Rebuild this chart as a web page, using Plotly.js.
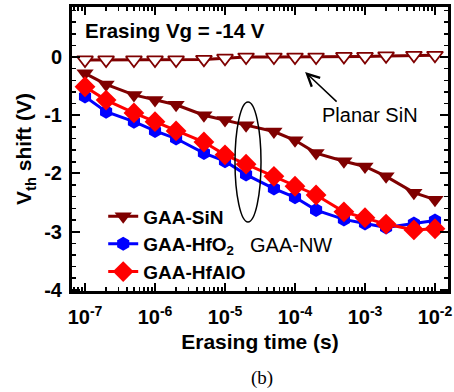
<!DOCTYPE html>
<html>
<head>
<meta charset="utf-8">
<script src="https://cdn.plot.ly/plotly-3.0.1.min.js"></script>
<style>html,body{margin:0;padding:0;background:#fff;}#chart{width:454px;height:392px;}</style>
</head>
<body>
<div id="chart"></div>
<script>
// Erasing time (s)
const eraseTime = [1e-7, 2e-7, 5e-7, 1e-6, 2e-6, 5e-6, 1e-5, 2e-5, 5e-5, 1e-4, 2e-4, 5e-4, 1e-3, 2e-3, 5e-3, 1e-2];
// Vth shift (V)
const planarSiN = [-0.05, -0.05, -0.05, -0.05, -0.05, -0.04, -0.02, 0.0, 0.0, 0.0, 0.0, 0.01, 0.01, 0.02, 0.03, 0.03];
const gaaSiN    = [-0.28, -0.47, -0.65, -0.74, -0.82, -1.0, -1.08, -1.17, -1.28, -1.43, -1.65, -1.79, -1.88, -2.05, -2.33, -2.45];
const gaaHfO2   = [-0.68, -0.94, -1.11, -1.27, -1.40, -1.65, -1.79, -2.02, -2.26, -2.41, -2.63, -2.79, -2.86, -2.93, -2.86, -2.81];
const gaaHfAlO  = [-0.51, -0.74, -0.96, -1.11, -1.27, -1.46, -1.68, -1.84, -2.05, -2.22, -2.37, -2.66, -2.76, -2.87, -2.97, -2.95];
const seriesNames = ['Planar SiN', 'GAA-SiN', 'GAA-HfO<sub>2</sub>', 'GAA-HfAlO'];
const xTickVals = [1e-7, 1e-6, 1e-5, 1e-4, 1e-3, 1e-2];
const xTickText = ['10<sup>-7</sup>', '10<sup>-6</sup>', '10<sup>-5</sup>', '10<sup>-4</sup>', '10<sup>-3</sup>', '10<sup>-2</sup>'];
const yTickVals = [0, -1, -2, -3, -4];
const yTickText = ['0', '-1', '-2', '-3', '-4'];

const SANS = 'Liberation Sans, Arial, Helvetica, sans-serif';
const MAROON = '#7f0000';

const traces = [
  {x: eraseTime, y: planarSiN, name: seriesNames[0], mode: 'lines+markers', showlegend: false,
   line: {color: MAROON, width: 3},
   marker: {symbol: 'triangle-down', size: 14, color: '#ffffff', line: {color: MAROON, width: 1.8}}},
  {x: eraseTime, y: gaaSiN, name: seriesNames[1], mode: 'lines+markers',
   line: {color: MAROON, width: 3},
   marker: {symbol: 'triangle-down', size: 15, color: MAROON}},
  {x: eraseTime, y: gaaHfO2, name: seriesNames[2], mode: 'lines+markers',
   line: {color: '#0000ff', width: 3},
   marker: {symbol: 'hexagon', size: 14, color: '#0000ff'}},
  {x: eraseTime, y: gaaHfAlO, name: seriesNames[3], mode: 'lines+markers',
   line: {color: '#ff0000', width: 3},
   marker: {symbol: 'diamond', size: 16, color: '#ff0000'}}
];

const axisCommon = {
  showline: true, linecolor: '#000', linewidth: 3, mirror: 'allticks',
  ticks: 'inside', ticklen: 8, tickwidth: 2, tickcolor: '#000',
  showgrid: false, zeroline: false,
  tickfont: {family: SANS, size: 20, color: '#000', weight: 'bold'}
};

const layout = {
  width: 454, height: 392,
  margin: {l: 72, r: 6, t: 7, b: 101},
  paper_bgcolor: '#fff', plot_bgcolor: '#fff',
  showlegend: true,
  legend: {x: 0.083, y: 0.33, xanchor: 'left', yanchor: 'top', bgcolor: 'rgba(0,0,0,0)',
           font: {family: SANS, size: 19, color: '#000', weight: 'bold'}, tracegroupgap: 0},
  xaxis: Object.assign({}, axisCommon, {
    type: 'log', range: [-7.186, -1.814],
    tickmode: 'array', tickvals: xTickVals, ticktext: xTickText, ticklabelstandoff: 6,
    minor: {ticks: 'inside', ticklen: 4, tickwidth: 1.5, tickcolor: '#000', dtick: 'D1', showgrid: false},
    title: {text: 'Erasing time (s)', standoff: 8, font: {family: SANS, size: 21, color: '#000', weight: 'bold'}}
  }),
  yaxis: Object.assign({}, axisCommon, {
    range: [-4.02, 0.86],
    tickmode: 'array', tickvals: yTickVals, ticktext: yTickText, ticklabelstandoff: 3,
    minor: {ticks: 'inside', ticklen: 4, tickwidth: 1.5, tickcolor: '#000', dtick: 0.2, showgrid: false},
    title: {text: 'V<sub>th</sub> shift (V)', standoff: 7, font: {family: SANS, size: 21, color: '#000', weight: 'bold'}}
  }),
  shapes: [
    {type: 'circle', xref: 'paper', yref: 'paper', x0: 0.4335, x1: 0.5027, y0: 0.243, y1: 0.6655,
     line: {color: '#000', width: 1.5}}
  ],
  annotations: [
    {text: 'Erasing Vg = -14 V', xref: 'paper', yref: 'paper', x: 0.029, y: 0.919, xanchor: 'left', yanchor: 'middle',
     showarrow: false, font: {family: SANS, size: 20.5, color: '#000', weight: 'bold'}},
    {text: 'Planar SiN', xref: 'paper', yref: 'paper', x: 0.793, y: 0.62, xanchor: 'center', yanchor: 'middle',
     showarrow: false, font: {family: SANS, size: 20, color: '#000'}},
    {text: '', xref: 'paper', yref: 'paper', x: 0.620, y: 0.771, ax: 33, ay: 31, axref: 'pixel', ayref: 'pixel',
     showarrow: true, arrowhead: 5, arrowsize: 1.6, arrowwidth: 1.5, arrowcolor: '#000'},
    {text: 'GAA-NW', xref: 'paper', yref: 'paper', x: 0.582, y: 0.162, xanchor: 'center', yanchor: 'middle',
     showarrow: false, font: {family: SANS, size: 20, color: '#000'}},
    {text: '(b)', xref: 'paper', yref: 'paper', x: 0.505, y: -0.306, xanchor: 'center', yanchor: 'middle',
     showarrow: false, font: {family: 'Liberation Serif, Times New Roman, serif', size: 19, color: '#000'}}
  ]
};

Plotly.newPlot('chart', traces, layout, {displayModeBar: false, staticPlot: true});
</script>
</body>
</html>
